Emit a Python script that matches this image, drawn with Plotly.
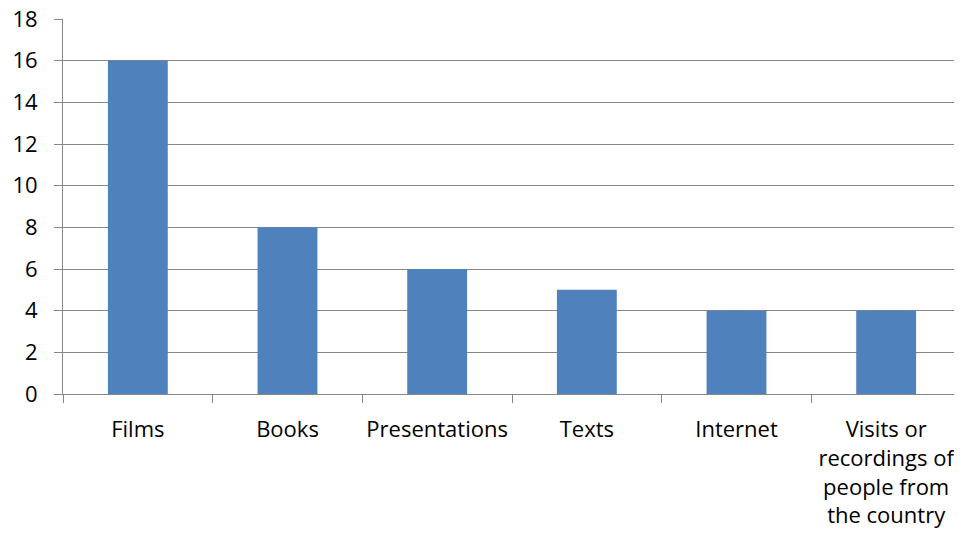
import plotly.graph_objects as go

categories = ["Films", "Books", "Presentations", "Texts", "Internet",
              "Visits or<br>recordings of<br>people from<br>the country"]
values = [16, 8, 6, 5, 4, 4]
y_ticks = [0, 2, 4, 6, 8, 10, 12, 14, 16, 18]

fig = go.Figure(go.Bar(x=categories, y=values, marker_color="#4F81BD",
                       marker_line_width=0))

fig.update_layout(
    width=954, height=531,
    margin=dict(l=55, r=1, t=11, b=145, autoexpand=False),
    paper_bgcolor="white", plot_bgcolor="white",
    bargap=0.6,
    showlegend=False,
    font=dict(family="Open Sans", size=22, color="black"),
)
fig.update_xaxes(
    automargin=False, tickangle=0, ticklabeloverflow="allow",
    showline=True, linecolor="#868686", linewidth=1,
    ticks="outside", tickson="boundaries", ticklen=8, tickcolor="#868686",
    showgrid=False, ticklabelstandoff=16,
)
fig.update_yaxes(
    automargin=False, ticklabeloverflow="allow",
    range=[0, 18], tickvals=y_ticks,
    showline=True, linecolor="#868686", linewidth=1,
    ticks="outside", ticklen=8, tickcolor="#868686",
    showgrid=True, gridcolor="#868686", gridwidth=1,
    zeroline=False, ticklabelstandoff=12,
)

fig.write_html("out.html")
